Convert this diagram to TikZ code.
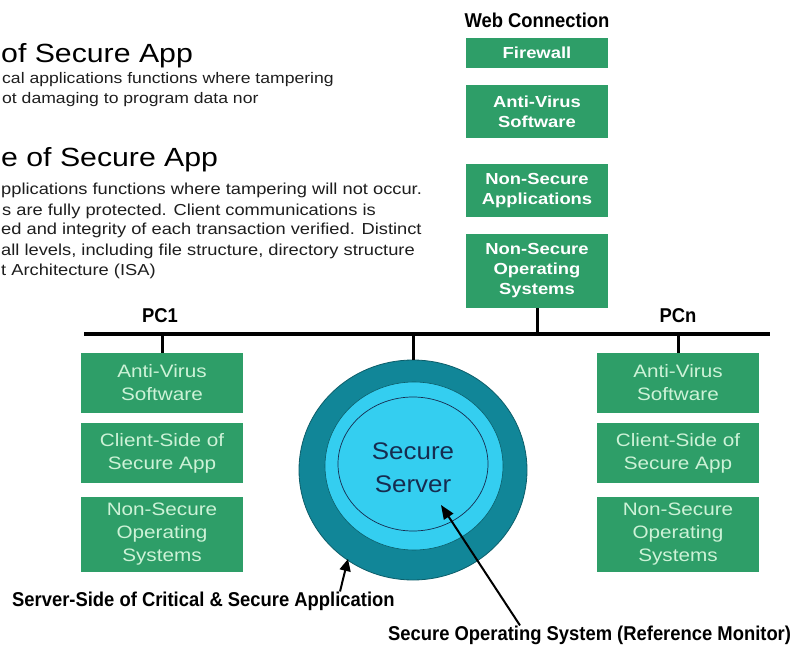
\documentclass[tikz,border=0pt]{standalone}
\usepackage{fontspec}
\setmainfont{Liberation Sans}
\newfontfamily\condf{Liberation Sans}[FakeStretch=0.92]
\newfontfamily\widef{Liberation Sans}[FakeStretch=1.15]
\newfontfamily\widebf{Liberation Sans}[FakeStretch=1.15]
\newfontfamily\ssfont{Liberation Sans}[FakeStretch=1.08]
\usetikzlibrary{shapes.geometric,arrows.meta}
\definecolor{boxgreen}{RGB}{46,158,104}
\definecolor{paletext}{RGB}{205,242,215}
\definecolor{tealring}{RGB}{17,134,152}
\definecolor{cyanfill}{RGB}{52,206,240}
\definecolor{navytext}{RGB}{22,44,80}
\definecolor{bodygray}{RGB}{30,30,30}
\tikzset{
  topbox/.style={fill=boxgreen, text=white, minimum width=142pt, inner sep=0pt, align=center,
    font=\widebf\bfseries\fontsize{16}{20}\selectfont},
  pcbox/.style={fill=boxgreen, text=paletext, minimum width=162pt, inner sep=0pt, align=center,
    font=\widef\fontsize{18}{23}\selectfont},
  lbl/.style={inner sep=0pt, font=\condf\bfseries\fontsize{20}{24}\selectfont},
  head/.style={inner sep=0pt, anchor=base west, font=\widef\fontsize{26.3}{30}\selectfont},
  bodyA/.style={inner sep=0pt, anchor=base west, text=bodygray, font=\widef\fontsize{15.3}{18}\selectfont},
  bodyB/.style={inner sep=0pt, anchor=base west, text=bodygray, font=\widef\fontsize{15.9}{18}\selectfont},
  wire/.style={line width=3pt},
  arr/.style={line width=2pt, -{Triangle[length=14pt,width=11pt]}}
}
\begin{document}
\begin{tikzpicture}[x=1pt,y=-1pt]
\useasboundingbox (0,0) rectangle (796,650);
\fill[white] (0,0) rectangle (796,650);

% left text block
\node[head] (h1) at (1,63) {of Secure App};
\node[bodyA] (b11) at (2,84) {cal applications functions where tampering};
\node[bodyA] (b12) at (2,104) {ot damaging to program data nor};
\node[head] (h2) at (1,167) {e of Secure App};
\node[bodyB] (b21) at (1,195) {pplications functions where tampering will not occur.};
\node[bodyB] (b22) at (2,215) {s are fully protected. Client communications is};
\node[bodyB] (b23) at (1,235) {ed and integrity of each transaction verified. Distinct};
\node[bodyB] (b24) at (1,255) {all levels, including file structure, directory structure};
\node[bodyB] (b25) at (1,275) {t Architecture (ISA)};

% web connection column
\node[lbl] (web) at (537,20) {Web Connection};
\node[topbox, minimum height=30pt] (fw) at (537,53) {Firewall};
\node[topbox, minimum height=53pt] (tav) at (537,111.5) {Anti-Virus\\Software};
\node[topbox, minimum height=53pt] (nsa) at (537,190.5) {Non-Secure\\Applications};
\node[topbox, minimum height=74pt] (nso) at (537,271) {Non-Secure\\Operating\\Systems};

% bus
\coordinate (busL) at (84,334);
\coordinate (busR) at (770,334);
\draw[line width=3.5pt] (busL) -- (busR);
\node[lbl] (pc1) at (160,316) {PC1};
\node[lbl] (pcn) at (678,316) {PCn};

% PC1 boxes
\node[pcbox, minimum height=60pt] (lav) at (162,383) {Anti-Virus\\Software};
\node[pcbox, minimum height=60pt] (lcs) at (162,453) {Client-Side of\\Secure App};
\node[pcbox, minimum height=75pt] (lns) at (162,534.5) {Non-Secure\\Operating\\Systems};
% PCn boxes
\node[pcbox, minimum height=60pt] (rav) at (678,383) {Anti-Virus\\Software};
\node[pcbox, minimum height=60pt] (rcs) at (678,453) {Client-Side of\\Secure App};
\node[pcbox, minimum height=75pt] (rns) at (678,534.5) {Non-Secure\\Operating\\Systems};

% server rings
\node[ellipse, fill=tealring, draw=tealring!70!black, line width=0.8pt,
      minimum width=228pt, minimum height=220pt, inner sep=0pt] (outer) at (413,470) {};
\node[ellipse, fill=cyanfill, draw=tealring!70!black, line width=0.6pt,
      minimum width=178pt, minimum height=168pt, inner sep=0pt] (mid) at (414,466) {};
\node[ellipse, draw=navytext, line width=0.7pt,
      minimum width=150pt, minimum height=134pt, inner sep=0pt] (inner) at (413,464) {};
\node[inner sep=0pt, align=center, text=navytext,
      font=\ssfont\fontsize{24}{33}\selectfont] (ss) at (413,468) {Secure\\Server};

% stubs
\draw[wire] (nso.south) -- (nso.south |- busL);
\draw[wire] (lav.north) -- (lav.north |- busL);
\draw[wire] (rav.north) -- (rav.north |- busL);
\draw[wire] (outer.north) -- (outer.north |- busL);

% bottom labels and arrows
\node[lbl, anchor=west] (ssl) at (12,601) {Server-Side of Critical \& Secure Application};
\node[lbl, anchor=west] (sosl) at (388,635) {Secure Operating System (Reference Monitor)};
\coordinate (t1) at (348,559);
\coordinate (t2) at (441,505);
\draw[line width=2pt, -{Triangle[length=12pt,width=11pt]}] ([xshift=328pt]ssl.north west) -- (t1);
\draw[arr] ([xshift=132pt]sosl.north west) -- (t2);
\end{tikzpicture}
\end{document}
